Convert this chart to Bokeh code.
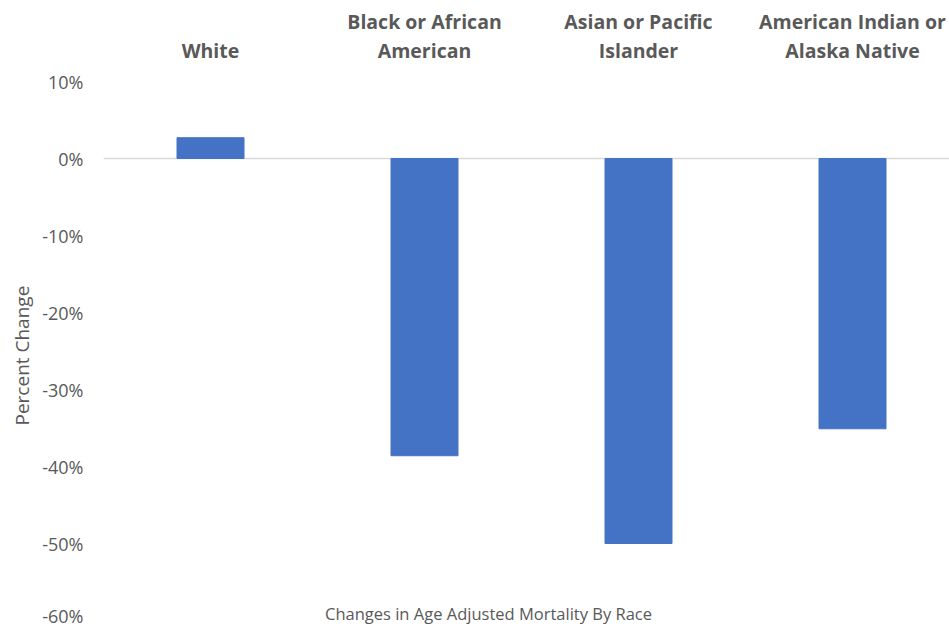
from bokeh.plotting import figure
from bokeh.models import Range1d, FixedTicker, Span, Title, ColumnDataSource
from bokeh.core.properties import value
from bokeh.embed import file_html
from bokeh.resources import INLINE

# ---- data ----
categories = ["White", "Black or African\nAmerican", "Asian or Pacific\nIslander",
              "American Indian or\nAlaska Native"]
changes = [2.7, -38.6, -50.0, -35.1]
y_ticks = [10, 0, -10, -20, -30, -40, -50, -60]
y_tick_labels = ["10%", "0%", "-10%", "-20%", "-30%", "-40%", "-50%", "-60%"]
x_title = "Changes in Age Adjusted Mortality By Race"
y_title = "Percent Change"

# ---- layout constants ----
W, H = 949, 627
LEFT = 103
PX_PER_UNIT = 7.7
Y_TOP = 10 + 81 / PX_PER_UNIT
Y_BOT = Y_TOP - H / PX_PER_UNIT
CAT_PX = 214
X_END = -0.5 + (W - LEFT) / CAT_PX

GRAY = "#595959"
FONT = "Open Sans"

p = figure(width=W, height=H, output_backend="svg", toolbar_location=None,
           x_range=Range1d(-0.5, X_END), y_range=Range1d(Y_BOT, Y_TOP),
           x_axis_location=None, min_border_left=LEFT, min_border_right=0,
           min_border_top=0, min_border_bottom=0)
p.outline_line_color = None
p.xgrid.visible = False
p.ygrid.visible = False
p.background_fill_color = "white"
p.border_fill_color = "white"

idx = list(range(len(categories)))

zero = Span(location=0, dimension="width", line_color="#D9D9D9", line_width=1.5, level="underlay")
p.add_layout(zero)

p.vbar(x=idx, top=changes, bottom=0, width=67 / CAT_PX, fill_color="#4472C4",
       line_color="#4472C4")

# category labels on top
line1, line2 = [], []
for c in categories:
    parts = c.split("\n")
    if len(parts) == 1:
        line1.append("")
        line2.append(parts[0])
    else:
        line1.append(parts[0])
        line2.append(parts[1])
src = ColumnDataSource(dict(x=idx, l1=line1, l2=line2,
                            y1=[Y_TOP - 21 / PX_PER_UNIT] * len(idx),
                            y2=[Y_TOP - 50 / PX_PER_UNIT] * len(idx)))
for col, ycol in (("l1", "y1"), ("l2", "y2")):
    p.text(x="x", y=ycol, text=col, source=src, text_align="center",
           text_baseline="middle", text_font=value(FONT), text_font_style="bold",
           text_font_size="19.5px", text_color=GRAY)

# x title
p.text(x=[(488 - LEFT) / CAT_PX - 0.5], y=[Y_TOP - 613 / PX_PER_UNIT], text=[x_title],
       text_align="center", text_baseline="middle", text_font=value(FONT),
       text_font_size="16.5px", text_color=GRAY)

ax = p.yaxis[0]
ax.ticker = FixedTicker(ticks=y_ticks)
ax.major_label_overrides = {t: l for t, l in zip(y_ticks, y_tick_labels)}
ax.axis_line_color = None
ax.major_tick_line_color = None
ax.minor_tick_line_color = None
ax.major_tick_out = 0
ax.major_tick_in = 0
ax.major_label_standoff = 20
ax.major_label_text_font = FONT
ax.major_label_text_font_size = "18px"
ax.major_label_text_color = GRAY

t = Title(text=y_title, align="left", offset=202, text_font=FONT, text_font_size="19px",
          text_font_style="normal", text_color=GRAY)
p.add_layout(t, "left")

open("out.html", "w").write(file_html(p, INLINE))
